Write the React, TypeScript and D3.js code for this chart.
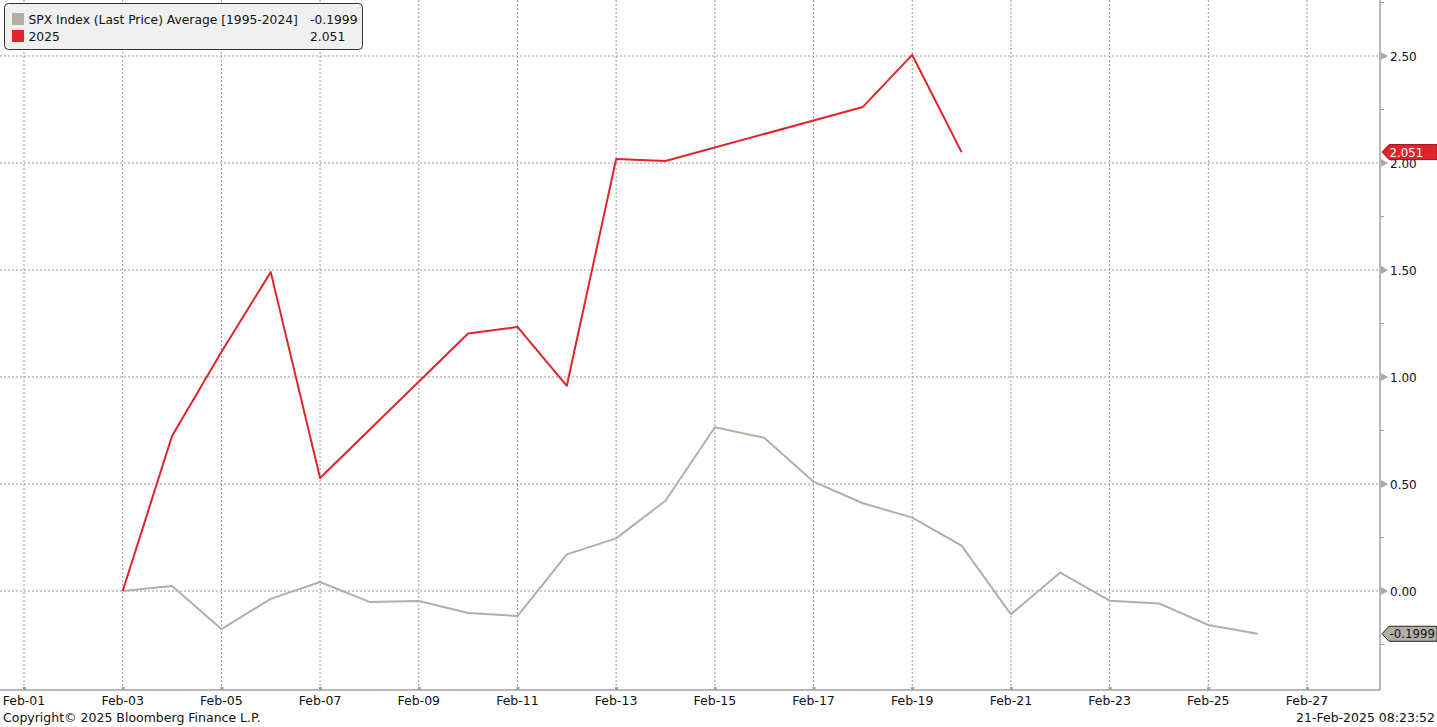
import React from "react";
import * as d3 from "d3";

const W = 1437;
const H = 727;

// Dates as day-of-February
const avgDays = [3, 4, 5, 6, 7, 8, 9, 10, 11, 12, 13, 14, 15, 16, 17, 18, 19, 20, 21, 22, 23, 24, 25, 26];
const avgValues = [0, 0.023, -0.178, -0.037, 0.042, -0.051, -0.047, -0.103, -0.117, 0.171, 0.246, 0.422, 0.765, 0.716, 0.511, 0.41, 0.343, 0.212, -0.109, 0.086, -0.045, -0.058, -0.159, -0.1999];

const y2025Days = [3, 4, 5, 6, 7, 10, 11, 12, 13, 14, 18, 19, 20];
const y2025Values = [0, 0.724, 1.117, 1.49, 0.528, 1.203, 1.234, 0.959, 2.019, 2.009, 2.262, 2.505, 2.051];

const xTickDays = [1, 3, 5, 7, 9, 11, 13, 15, 17, 19, 21, 23, 25, 27];
const yTicks = [0, 0.5, 1.0, 1.5, 2.0, 2.5];
const yMinorTicks = [-0.25, 0.25, 0.75, 1.25, 1.75, 2.25, 2.75];

const legendLabels = ["SPX Index (Last Price) Average [1995-2024]", "2025"];
const legendValues = ["-0.1999", "2.051"];
const lastAvg = "-0.1999";
const last2025 = "2.051";

const RED = "#e1242c";
const GRAY = "#b3afa5";
const FONT = "'DejaVu Sans', Verdana, sans-serif";

const feb = (d: number) => new Date(Date.UTC(2025, 1, d));

export default function App() {
  const plotRight = 1380;
  const plotBottom = 690;
  const x = d3.scaleUtc().domain([feb(1), feb(27)]).range([24, 1307]);
  const y = d3.scaleLinear().domain([0, 2.5]).range([591, 56]);
  const fmt = d3.utcFormat("%b-%d");

  const line = d3
    .line<[number, number]>()
    .x((d) => x(feb(d[0])))
    .y((d) => y(d[1]));

  const avgPath = line(avgDays.map((d, i) => [d, avgValues[i]]) as [number, number][]) || "";
  const redPath = line(y2025Days.map((d, i) => [d, y2025Values[i]]) as [number, number][]) || "";

  const tag = (val: number, text: string, fill: string, stroke: string, color: string) => {
    const cy = y(val);
    const h = 15;
    const x0 = plotRight + 2;
    const x1 = x0 + 7;
    const x2 = W;
    const p = `M${x0},${cy} L${x1},${cy - h / 2} L${x2},${cy - h / 2} L${x2},${cy + h / 2} L${x1},${cy + h / 2} Z`;
    return (
      <g>
        <path d={p} fill={fill} stroke={stroke} strokeWidth={1} />
        <text x={x1 + 0.5} y={cy + 4.5} fontSize={11.8} fill={color} fontFamily={FONT}>
          {text}
        </text>
      </g>
    );
  };

  return (
    <div style={{ position: "absolute", left: 0, top: 0 }}>
      <svg width={W} height={H} style={{ display: "block", background: "#fff" }}>
        {/* horizontal grid */}
        {yTicks.map((t) => (
          <line key={"hg" + t} x1={0} x2={plotRight} y1={y(t)} y2={y(t)} stroke="#999" strokeWidth={1} strokeDasharray="2,2" />
        ))}
        {/* vertical grid */}
        {xTickDays.map((d) => (
          <line key={"vg" + d} x1={x(feb(d))} x2={x(feb(d))} y1={0} y2={plotBottom} stroke="#999" strokeWidth={1} strokeDasharray="2,2" />
        ))}
        {/* axes */}
        <line x1={0} x2={plotRight} y1={plotBottom} y2={plotBottom} stroke="#a0a0a0" strokeWidth={1.5} />
        <line x1={plotRight} x2={plotRight} y1={0} y2={plotBottom} stroke="#a0a0a0" strokeWidth={1.5} />
        {yMinorTicks.map((t) => (
          <line key={"mt" + t} x1={plotRight} x2={plotRight + 4} y1={y(t)} y2={y(t)} stroke="#a0a0a0" strokeWidth={1} />
        ))}
        {yTicks.map((t) => (
          <g key={"yt" + t}>
            <path d={`M${plotRight + 1},${y(t) - 4} L${plotRight + 8},${y(t)} L${plotRight + 1},${y(t) + 4} Z`} fill="#a8a8a8" />
            <text x={plotRight + 10} y={y(t) + 4.5} fontSize={12} fontFamily={FONT} fill="#111">
              {t.toFixed(2)}
            </text>
          </g>
        ))}
        {xTickDays.map((d) => (
          <g key={"xt" + d}>
            <rect x={x(feb(d)) - 1} y={plotBottom - 3} width={3} height={3} fill="#a0a0a0" />
            <text x={x(feb(d))} y={plotBottom + 15} fontSize={12.5} fontFamily={FONT} fill="#111" textAnchor="middle">
              {fmt(feb(d))}
            </text>
          </g>
        ))}

        {/* series */}
        <path d={avgPath} fill="none" stroke={GRAY} strokeWidth={2} strokeLinejoin="round" />
        <path d={redPath} fill="none" stroke={RED} strokeWidth={2} strokeLinejoin="round" />

        {/* last value tags */}
        {tag(+last2025, last2025, RED, "#a01018", "#fff")}
        {tag(+lastAvg, lastAvg, GRAY, "#222", "#111")}

        {/* legend */}
        <rect x={4.5} y={3.5} width={358} height={46} rx={4} ry={4} fill="#f0f0f0" stroke="#333" strokeWidth={1} />
        {legendLabels.map((l, i) => (
          <g key={"lg" + i}>
            <rect x={12} y={13 + i * 17} width={12} height={12} fill={i === 0 ? GRAY : RED} />
            <text x={28.5} y={24 + i * 17} fontSize={12.3} fontFamily={FONT} fill="#111">
              {l}
            </text>
            <text x={310} y={24 + i * 17} fontSize={12.3} fontFamily={FONT} fill="#111">
              {legendValues[i]}
            </text>
          </g>
        ))}

        {/* footer */}
        <text x={3} y={722} fontSize={12.5} fontFamily={FONT} fill="#111">
          Copyright© 2025 Bloomberg Finance L.P.
        </text>
        <text x={1435} y={722} fontSize={12.5} fontFamily={FONT} fill="#111" textAnchor="end">
          21-Feb-2025 08:23:52
        </text>
      </svg>
    </div>
  );
}
